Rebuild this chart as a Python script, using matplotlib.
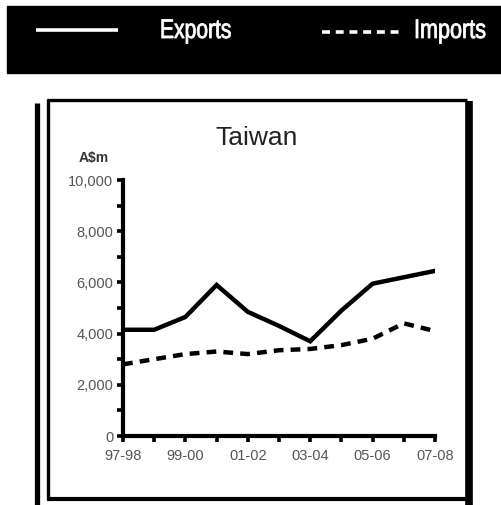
import matplotlib
matplotlib.use('Agg')
import matplotlib.pyplot as plt
from matplotlib.patches import Rectangle, PathPatch
from matplotlib.textpath import TextPath
from matplotlib.font_manager import FontProperties
from matplotlib.transforms import Affine2D
from matplotlib.ticker import FuncFormatter, MultipleLocator

years = ['97-98', '98-99', '99-00', '00-01', '01-02', '02-03',
         '03-04', '04-05', '05-06', '06-07', '07-08']
exports = [4150, 4150, 4650, 5900, 4850, 4300, 3700, 4900, 5950, 6200, 6450]
imports = [2800, 3000, 3200, 3300, 3200, 3350, 3400, 3550, 3800, 4400, 4100]

W, H = 502, 505
fig = plt.figure(figsize=(W / 100, H / 100), dpi=100)
fig.patch.set_facecolor('white')

# pixel-space layer for the banner and the frame
deco = fig.add_axes([0, 0, 1, 1])
deco.set_xlim(0, W)
deco.set_ylim(H, 0)
deco.axis('off')


def narrow_text(s, x0, baseline, size, squeeze):
    # condensed lettering: squash a text outline horizontally
    tp = TextPath((0, 0), s, size=size,
                  prop=FontProperties(family='Liberation Sans'))
    tr = Affine2D().scale(squeeze, -1).translate(x0, baseline)
    deco.add_patch(PathPatch(tr.transform_path(tp), facecolor='white',
                             edgecolor='white', lw=0.6))


deco.add_patch(Rectangle((7, 6), W - 7, 67, color='black'))
deco.plot([36, 118], [30, 30], color='white', lw=2.6, solid_capstyle='butt')
deco.plot([322, 403], [32, 32], color='white', lw=2.6, dashes=(2.2, 1.6))
narrow_text('Exports', 160, 38, 27, 0.78)
narrow_text('Imports', 414, 38, 27, 0.80)

# chart frame plus the heavy rule on the left
deco.plot([37, 37], [103, H], color='black', lw=3.8, solid_capstyle='butt')
deco.plot([48, 48], [99, 500], color='black', lw=2.4, solid_capstyle='butt')
deco.plot([47, 467], [100, 100], color='black', lw=2.4, solid_capstyle='butt')
deco.plot([47, 470], [499, 499], color='black', lw=3.0, solid_capstyle='butt')
deco.plot([469, 469], [101, H], color='black', lw=5.5, solid_capstyle='butt')

deco.text(257, 138, 'Taiwan', fontsize=19, family='Liberation Sans',
          color='#222222', ha='center', va='center')
deco.text(94, 158, 'A$m', fontsize=10, family='Liberation Sans',
          fontweight='bold', color='#333333', ha='center', va='center')

ax = fig.add_axes([123 / W, (H - 436) / H, (435 - 123) / W, (436 - 180) / H])
x = list(range(len(years)))
ax.plot(x, exports, color='black', lw=3.2, solid_joinstyle='miter')
ax.plot(x, imports, color='black', lw=3.2, dashes=(2.2, 1.6))

ax.set_xlim(0, len(years) - 1)
ax.set_ylim(0, 10000)
ax.set_xticks(x)
ax.set_xticklabels([y if i % 2 == 0 else '' for i, y in enumerate(years)])
ax.yaxis.set_major_locator(MultipleLocator(2000))
ax.yaxis.set_minor_locator(MultipleLocator(1000))
ax.yaxis.set_major_formatter(FuncFormatter(lambda v, p: f'{int(v):,}'))

for side in ('top', 'right'):
    ax.spines[side].set_visible(False)
for side in ('left', 'bottom'):
    ax.spines[side].set_linewidth(3.0)
    ax.spines[side].set_capstyle('projecting')

ax.tick_params(axis='both', which='both', direction='out', width=2.6,
               length=4, color='black')
ax.tick_params(axis='y', labelsize=10.5, labelcolor='#555555', pad=3)
ax.tick_params(axis='x', labelsize=10.5, labelcolor='#555555', pad=5)
for lab in ax.get_xticklabels() + ax.get_yticklabels():
    lab.set_family('Liberation Sans')
ax.set_facecolor('none')

fig.savefig('out.png', dpi=100)
